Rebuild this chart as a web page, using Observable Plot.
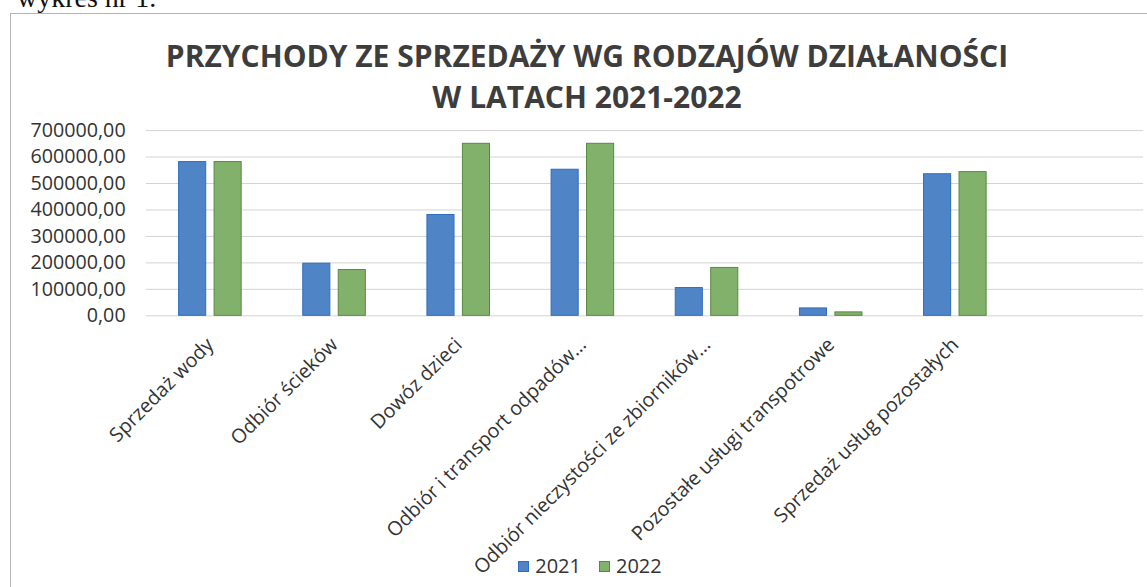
<!DOCTYPE html>
<html>
<head>
<meta charset="utf-8">
<script src="https://cdn.jsdelivr.net/npm/d3@7"></script>
<script src="https://cdn.jsdelivr.net/npm/@observablehq/plot@0.6"></script>
<style>
  html, body { margin: 0; padding: 0; background: #fff; }
  body { width: 1147px; height: 587px; overflow: hidden; position: relative; font-family: "Open Sans", sans-serif; }
  #caption { position: absolute; left: 17px; top: -16px; font-family: "Liberation Serif", serif; font-size: 28px; line-height: 27px; color: #111; white-space: nowrap; }
  #box { position: absolute; left: 10px; top: 13px; width: 1154px; height: 700px; border: 1px solid #b4b4b4; box-sizing: border-box; }
  #title { position: absolute; left: 10px; width: 1154px; top: 35px; text-align: center; font-weight: 700; font-size: 30px; line-height: 41px; color: #3d3d3d; }
  #chart { position: absolute; left: 0; top: 0; }
  #legend { position: absolute; left: 0; width: 1180px; top: 552px; text-align: center; font-size: 20px; line-height: 28px; color: #333; }
  #legend span.sw { display: inline-block; width: 11px; height: 11px; margin-right: 6px; vertical-align: 1px; }
  #legend span.item { margin: 0 9px; }
</style>
</head>
<body>
<div id="caption">wykres nr 1.</div>
<div id="box"></div>
<div id="title">PRZYCHODY ZE SPRZEDAŻY WG RODZAJÓW DZIAŁANOŚCI<br>W LATACH 2021-2022</div>
<div id="chart"></div>
<div id="legend"></div>
<script>
const categories = [
  "Sprzedaż wody",
  "Odbiór ścieków",
  "Dowóz dzieci",
  "Odbiór i transport odpadów…",
  "Odbiór nieczystości ze zbiorników…",
  "Pozostałe usługi transpotrowe",
  "Sprzedaż usług pozostałych"
];
// the category axis in the original reserves one more (empty) slot on the right
const emptySlot = [" "];
const years = ["2021", "2022"];
const values2021 = [581000, 197000, 381000, 552000, 105000, 28000, 535000];
const values2022 = [581000, 173000, 650000, 650000, 181000, 13000, 543000];
const yTicks = [0, 100000, 200000, 300000, 400000, 500000, 600000, 700000];

const fills = {"2021": "#4f85c6", "2022": "#82b16c"};
const strokes = {"2021": "#2d6cbf", "2022": "#55893f"};

const rows2021 = categories.map((c, i) => ({category: c, year: "2021", value: values2021[i]}));
const rows2022 = categories.map((c, i) => ({category: c, year: "2022", value: values2022[i]}));

const W = 1164, ML = 148, MR = 4;
const step = (W - ML - MR) / (categories.length + emptySlot.length);
const barW = 28, gap = 8;
const outer = (step - 2 * barW - gap) / 2;

const fmt = d => d.toFixed(2).replace(".", ",");

const chart = Plot.plot({
  width: W,
  height: 587,
  marginLeft: ML,
  marginRight: MR,
  marginTop: 132,
  marginBottom: 267,
  style: {fontFamily: "'Open Sans', sans-serif", color: "#333", background: "transparent"},
  x: {domain: [...categories, ...emptySlot], padding: 0},
  y: {domain: [0, 700000]},
  marks: [
    Plot.ruleY(yTicks, {stroke: "#d2d2d2", strokeWidth: 1}),
    Plot.barY(rows2021, {x: "category", y: "value", fill: fills["2021"], stroke: strokes["2021"], strokeWidth: 1,
      insetLeft: outer, insetRight: step - outer - barW}),
    Plot.barY(rows2022, {x: "category", y: "value", fill: fills["2022"], stroke: strokes["2022"], strokeWidth: 1,
      insetLeft: outer + barW + gap, insetRight: outer}),
    Plot.axisY({ticks: yTicks, tickFormat: fmt, tickSize: 0, tickPadding: 21, fontSize: 20, label: null, fill: "#333"}),
    Plot.axisX({tickRotate: -45, tickSize: 0, tickPadding: 26, fontSize: 20, label: null, fill: "#333"})
  ]
});
document.getElementById("chart").appendChild(chart);

const legend = document.getElementById("legend");
legend.innerHTML = years.map(y =>
  `<span class="item"><span class="sw" style="background:${fills[y]};border:1px solid ${strokes[y]};box-sizing:border-box"></span>${y}</span>`
).join("");
</script>
</body>
</html>
